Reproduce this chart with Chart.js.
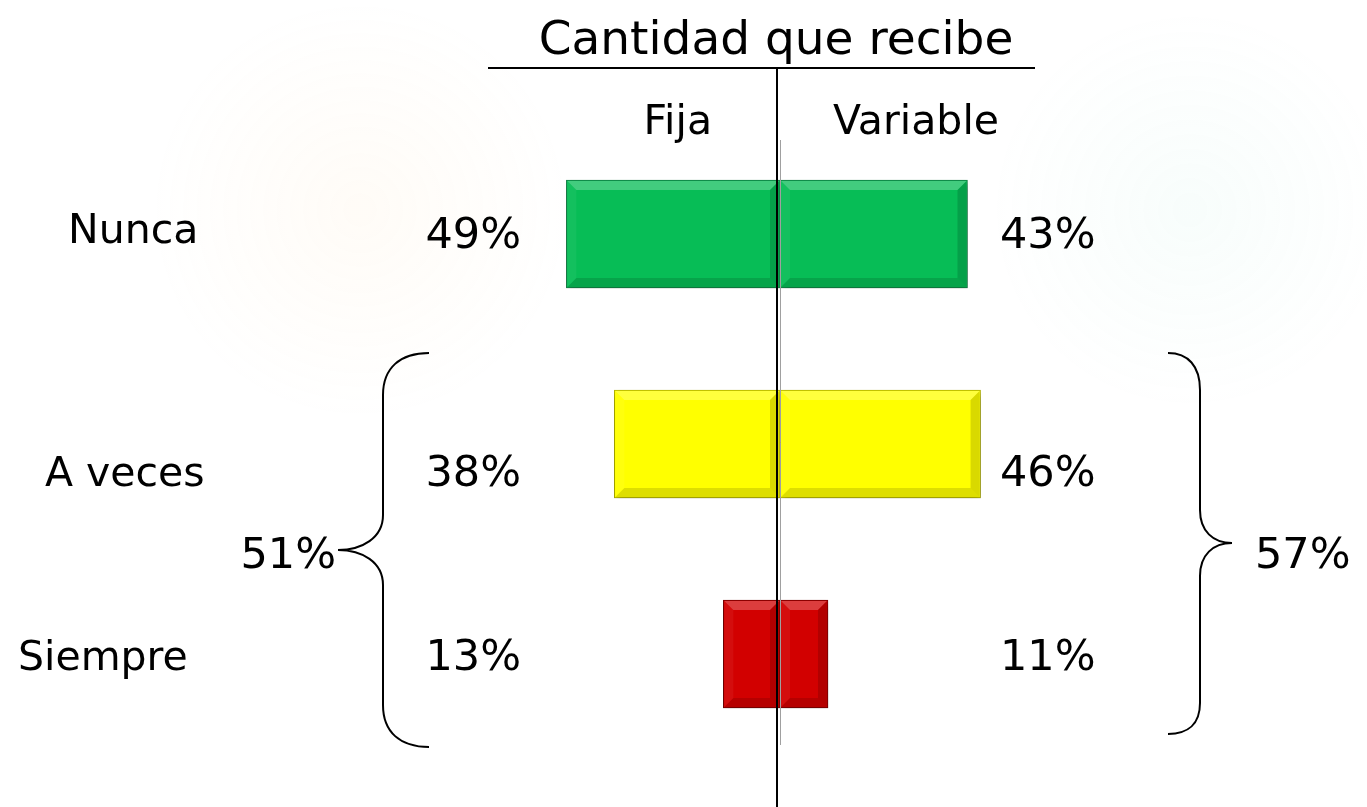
<!DOCTYPE html>
<html>
<head>
<meta charset="utf-8">
<title>Cantidad que recibe</title>
<script src="https://cdn.jsdelivr.net/npm/chart.js@4.4.1/dist/chart.umd.min.js"></script>
<style>
  html, body { margin: 0; padding: 0; background: #fff; }
  canvas { display: block; }
</style>
</head>
<body>
<canvas id="myChart" width="1367" height="807"></canvas>
<script>
// data
const categories = ['Nunca', 'A veces', 'Siempre'];
const fija = [49, 38, 13];
const variable = [43, 46, 11];
const groupLabels = ['51%', '57%'];   // A veces + Siempre, per side
const title = 'Cantidad que recibe';
const sideLabels = ['Fija', 'Variable'];

const barColors = ['#07bd56', '#ffff00', '#d20000'];
const edgeColors = ['#17844a', '#b5b500', '#7a0000'];

const FONT = '"DejaVu Sans", Verdana, sans-serif';

// where the row names sit (left x, baseline)
const rowNamePos = [[68, 243], [45, 486], [18, 670]];
const rowPctBaseline = [248, 486, 670];

const decorations = {
    id: 'decorations',
    beforeDraw(chart) {
        const ctx = chart.ctx;
        ctx.save();
        // very faint watermark blobs behind the chart
        let g = ctx.createRadialGradient(360, 210, 10, 360, 210, 210);
        g.addColorStop(0, 'rgba(255,200,120,0.06)');
        g.addColorStop(1, 'rgba(255,200,120,0)');
        ctx.fillStyle = g;
        ctx.fillRect(120, 0, 480, 430);
        g = ctx.createRadialGradient(1190, 210, 10, 1190, 210, 200);
        g.addColorStop(0, 'rgba(120,220,190,0.05)');
        g.addColorStop(1, 'rgba(120,220,190,0)');
        ctx.fillStyle = g;
        ctx.fillRect(980, 0, 387, 430);
        ctx.restore();
    },
    beforeDatasetsDraw(chart) {
        const ctx = chart.ctx;
        ctx.save();
        ctx.shadowColor = 'rgba(0,0,0,0.35)';
        ctx.shadowBlur = 8;
        ctx.shadowOffsetX = 1;
        ctx.shadowOffsetY = 4;
    },
    afterDatasetsDraw(chart) {
        const ctx = chart.ctx;
        ctx.restore();

        // bevel on each bar
        chart.data.datasets.forEach((ds, di) => {
            chart.getDatasetMeta(di).data.forEach(bar => {
                const p = bar.getProps(['x', 'y', 'base', 'height'], true);
                const l = Math.min(p.x, p.base) + 1, r = Math.max(p.x, p.base) - 1;
                const t = p.y - p.height / 2 + 1, b = p.y + p.height / 2 - 1;
                const bv = Math.min(9, (r - l) / 3);
                ctx.save();
                ctx.fillStyle = 'rgba(255,255,255,0.24)';
                ctx.beginPath();
                ctx.moveTo(l, t); ctx.lineTo(r, t); ctx.lineTo(r - bv, t + bv); ctx.lineTo(l + bv, t + bv);
                ctx.closePath(); ctx.fill();
                ctx.fillStyle = 'rgba(0,0,0,0.13)';
                ctx.beginPath();
                ctx.moveTo(l, b); ctx.lineTo(r, b); ctx.lineTo(r - bv, b - bv); ctx.lineTo(l + bv, b - bv);
                ctx.closePath(); ctx.fill();
                ctx.fillStyle = 'rgba(0,0,0,0.15)';
                ctx.beginPath();
                ctx.moveTo(r, t); ctx.lineTo(r, b); ctx.lineTo(r - bv, b - bv); ctx.lineTo(r - bv, t + bv);
                ctx.closePath(); ctx.fill();
                ctx.fillStyle = 'rgba(255,255,255,0.05)';
                ctx.beginPath();
                ctx.moveTo(l, t); ctx.lineTo(l, b); ctx.lineTo(l + bv, b - bv); ctx.lineTo(l + bv, t + bv);
                ctx.closePath(); ctx.fill();
                ctx.restore();
            });
        });
    },
    afterDraw(chart) {
        const ctx = chart.ctx;
        const xs = chart.scales.x;
        const zero = xs.getPixelForValue(0);
        ctx.save();

        // thin grey zero axis
        ctx.strokeStyle = '#a0a0a0';
        ctx.lineWidth = 1;
        ctx.beginPath();
        ctx.moveTo(zero + 0.5, 140);
        ctx.lineTo(zero + 0.5, 745);
        ctx.stroke();

        // table style lines
        ctx.strokeStyle = '#000';
        ctx.lineWidth = 2;
        ctx.beginPath();
        ctx.moveTo(488, 68);
        ctx.lineTo(1035, 68);
        ctx.moveTo(zero - 3, 68);
        ctx.lineTo(zero - 3, 807);
        ctx.stroke();

        ctx.fillStyle = '#000';
        ctx.textBaseline = 'alphabetic';

        ctx.font = '47px ' + FONT;
        ctx.textAlign = 'center';
        ctx.fillText(title, 776, 54);

        ctx.font = '41px ' + FONT;
        ctx.textAlign = 'right';
        ctx.fillText(sideLabels[0], 712, 134);
        ctx.textAlign = 'left';
        ctx.fillText(sideLabels[1], 833, 134);

        categories.forEach((c, i) => {
            ctx.font = '41px ' + FONT;
            ctx.textAlign = 'left';
            ctx.fillText(c, rowNamePos[i][0], rowNamePos[i][1]);
            ctx.font = '43px ' + FONT;
            ctx.textAlign = 'right';
            ctx.fillText(fija[i] + '%', 521, rowPctBaseline[i]);
            ctx.textAlign = 'left';
            ctx.fillText(variable[i] + '%', 1000, rowPctBaseline[i]);
        });

        // braces grouping A veces + Siempre
        ctx.lineWidth = 2;
        ctx.beginPath();
        ctx.moveTo(429, 353);
        ctx.bezierCurveTo(400, 353, 383, 368, 383, 395);
        ctx.lineTo(383, 515);
        ctx.bezierCurveTo(383, 538, 362, 550, 338, 550);
        ctx.bezierCurveTo(362, 550, 383, 562, 383, 585);
        ctx.lineTo(383, 705);
        ctx.bezierCurveTo(383, 732, 400, 747, 429, 747);
        ctx.stroke();

        ctx.beginPath();
        ctx.moveTo(1168, 353);
        ctx.bezierCurveTo(1188, 353, 1200, 366, 1200, 390);
        ctx.lineTo(1200, 510);
        ctx.bezierCurveTo(1200, 531, 1213, 543, 1232, 543);
        ctx.bezierCurveTo(1213, 543, 1200, 555, 1200, 576);
        ctx.lineTo(1200, 703);
        ctx.bezierCurveTo(1200, 724, 1188, 734, 1168, 734);
        ctx.stroke();

        ctx.font = '43px ' + FONT;
        ctx.textAlign = 'right';
        ctx.fillText(groupLabels[0], 336, 568);
        ctx.textAlign = 'left';
        ctx.fillText(groupLabels[1], 1255, 568);

        ctx.restore();
    }
};

new Chart('myChart', {
    type: 'bar',
    data: {
        labels: categories,
        datasets: [{
            label: sideLabels[0],
            data: fija.map(v => -v),
            backgroundColor: barColors,
            borderColor: edgeColors,
            borderWidth: 1,
            borderSkipped: false,
            barThickness: 108
        }, {
            label: sideLabels[1],
            data: variable,
            backgroundColor: barColors,
            borderColor: edgeColors,
            borderWidth: 1,
            borderSkipped: false,
            barThickness: 108
        }]
    },
    options: {
        indexAxis: 'y',
        responsive: false,
        animation: false,
        layout: {
            padding: { left: 344, right: 151, top: 129, bottom: 48 }
        },
        plugins: {
            legend: { display: false },
            tooltip: { enabled: false },
            title: { display: false }
        },
        scales: {
            x: { stacked: true, min: -100, max: 100, display: false },
            y: { stacked: true, display: false }
        }
    },
    plugins: [decorations]
});
</script>
</body>
</html>
